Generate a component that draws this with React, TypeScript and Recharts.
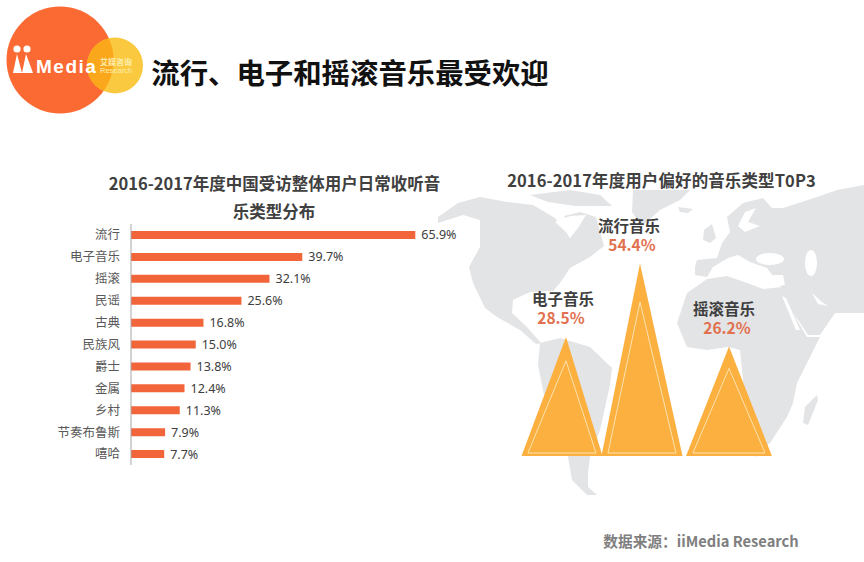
import { Bar, BarChart, LabelList, XAxis, YAxis } from 'recharts';

const genres = ['流行', '电子音乐', '摇滚', '民谣', '古典', '民族风', '爵士', '金属', '乡村', '节奏布鲁斯', '嘻哈'];
const genreShares = [65.9, 39.7, 32.1, 25.6, 16.8, 15.0, 13.8, 12.4, 11.3, 7.9, 7.7];

const topGenres = ['电子音乐', '流行音乐', '摇滚音乐'];
const topShares = [28.5, 54.4, 26.2];

const genreRows = genres.map((name, i) => ({ name, share: genreShares[i] }));
const topRows = topGenres.map((name, i) => ({ name, share: topShares[i] }));

const CJK = '"Noto Sans CJK SC", "Noto Sans", sans-serif';

// the triangles in the picture are not evenly spaced, so each gets a small nudge
const triangleTweaks = [
  { base: -1, peak: 3, grow: 1, name: -3, value: -5 },
  { base: -4, peak: -6, grow: 1, name: -11, value: -8 },
  { base: 0, peak: 0, grow: 1.06, name: -5, value: -2 },
];

function Triangle(props: any) {
  const { x, y, width, height, index } = props;
  const t = triangleTweaks[index];
  const mid = x + width / 2 + t.base;
  const half = (width * t.grow) / 2;
  const bottom = y + height;
  const peak = x + width / 2 + t.peak;
  const innerHalf = half * 0.84;
  const innerBottom = bottom - 3;
  const innerTop = y + height * 0.2;
  return (
    <g>
      <polygon points={`${mid - half},${bottom} ${peak},${y} ${mid + half},${bottom}`} fill="#fbb040" />
      <polygon
        points={`${mid - innerHalf},${innerBottom} ${peak},${innerTop} ${mid + innerHalf},${innerBottom}`}
        fill="none"
        stroke="#fde2ae"
        strokeWidth={1}
      />
      <text x={peak + t.name} y={y - 32} textAnchor="middle" fontSize={15.5} fontWeight={700} fill="#3f3f3f" fontFamily={CJK}>
        {topGenres[index]}
      </text>
      <text x={peak + t.value} y={y - 13} textAnchor="middle" fontSize={15.5} fontWeight={700} fill="#e2714f" fontFamily={CJK}>
        {topShares[index].toFixed(1)}%
      </text>
    </g>
  );
}

function WorldMap() {
  return (
    <svg width={864} height={562} style={{ position: 'absolute', left: 0, top: 0 }}>
      <g fill="#e3e4e6">
        {/* north america */}
        <path d="M438 217 L458 203 L480 197 L507 202 L533 205 L555 218 L566 232 L570 224 L564 216 L580 212 L596 217 L604 246 L590 257 L570 268 L560 283 L553 291 L530 292 L513 300 L512 313 L527 327 L541 343 L536 344 L520 330 L497 317 L485 308 L473 283 L469 267 L480 247 L480 220 L463 215 L438 223 Z" />
        <path d="M530 195 L570 190 L600 195 L612 206 L575 206 L548 202 Z" />
        <path d="M633 190 L690 190 L680 200 L660 210 L642 226 L632 212 Z" />
        <path d="M678 207 L693 209 L688 213 L680 212 Z" />
        {/* south america */}
        <path d="M540 343 L560 338 L590 347 L612 368 L610 385 L600 430 L590 457 L588 473 L588 487 L597 495 L587 495 L572 480 L568 457 L545 400 L538 365 Z" />
        {/* europe and asia */}
        <path d="M695 267 L697 260 L717 258 L722 243 L730 232 L727 217 L743 203 L763 198 L772 208 L783 208 L817 197 L837 190 L864 185 L864 313 L835 313 L820 335 L808 335 L783 297 L781 287 L767 268 L750 262 L738 255 L728 258 L713 267 L707 277 L695 275 Z" />
        <path d="M704 230 L712 224 L716 238 L710 243 L703 240 Z" />
        {/* africa */}
        <path d="M677 323 L687 293 L707 279 L727 276 L750 284 L763 289 L782 287 L797 320 L807 337 L820 337 L797 383 L793 403 L787 417 L770 443 L755 457 L745 440 L745 400 L740 350 L728 347 L707 350 L687 347 Z" />
        <path d="M817 395 L818 400 L808 425 L803 423 L805 407 Z" />
      </g>
      <g fill="#ffffff">
        <ellipse cx="770" cy="259" rx="14" ry="6" />
        <ellipse cx="811" cy="263" rx="6" ry="13" />
        <path d="M745 212 L756 208 L748 222 L760 226 L745 232 L738 226 Z" />
        <path d="M708 278 L720 270 L735 263 L745 270 L753 273 L763 275 L783 275 L785 285 L763 288 L750 283 L730 275 Z" />
        <path d="M782 296 L786 298 L800 330 L796 330 Z" />
        <path d="M812 293 L822 302 L828 306 L818 304 Z" />
        <path d="M555 222 L570 216 L586 215 L578 228 L570 238 L566 232 Z" />
      </g>
    </svg>
  );
}

function Logo() {
  return (
    <svg width={150} height={120} style={{ position: 'absolute', left: 0, top: 0 }}>
      <defs>
        <clipPath id="bigCircle">
          <circle cx={60} cy={60} r={53.5} />
        </clipPath>
      </defs>
      <circle cx={60} cy={60} r={53.5} fill="#fb6a33" />
      <circle cx={115} cy={65.5} r={28} fill="#fbc93f" />
      <circle cx={115} cy={65.5} r={28} fill="#fba71c" clipPath="url(#bigCircle)" />
      <circle cx={17} cy={49} r={3.6} fill="#fff" />
      <circle cx={27} cy={49} r={3.6} fill="#fff" />
      <path d="M13 73 L17 54 L22 73 Z M22 73 L26 54 L33 73 Z" fill="#fff" />
      <text x={36} y={73} fontSize={19} fontWeight={700} letterSpacing={1.5} fill="#fff" fontFamily="Liberation Sans, sans-serif">
        Media
      </text>
      <text x={100} y={65} fontSize={8} fontWeight={700} fill="#fdeeb0" fontFamily={CJK}>
        艾媒咨询
      </text>
      <text x={100} y={73} fontSize={7.5} fill="#fdeeb0" fontFamily="Liberation Sans, sans-serif">
        Research
      </text>
    </svg>
  );
}

function Heading(props: { cx: number; cy: number; size: number; color: string; spacing?: number; children: string }) {
  return (
    <div
      style={{
        position: 'absolute',
        left: props.cx - 300,
        top: props.cy - 20,
        width: 600,
        height: 40,
        lineHeight: '40px',
        textAlign: 'center',
        fontFamily: CJK,
        fontWeight: 700,
        fontSize: props.size,
        color: props.color,
        letterSpacing: props.spacing ?? 0,
        whiteSpace: 'nowrap',
      }}
    >
      {props.children}
    </div>
  );
}

export default function App() {
  return (
    <div style={{ position: 'absolute', left: 0, top: 0, width: 864, height: 562, background: '#fff', overflow: 'hidden' }}>
      <WorldMap />
      <Logo />
      <Heading cx={350} cy={72} size={28.4} color="#111">流行、电子和摇滚音乐最受欢迎</Heading>
      <Heading cx={274.5} cy={183} size={16.5} color="#404040">2016-2017年度中国受访整体用户日常收听音</Heading>
      <Heading cx={274} cy={211} size={16.5} color="#404040">乐类型分布</Heading>
      <Heading cx={661.5} cy={180} size={16.5} color="#404040" spacing={0.1}>2016-2017年度用户偏好的音乐类型T0P3</Heading>
      <Heading cx={701} cy={541} size={14.7} color="#7f7f7f">数据来源：iiMedia Research</Heading>

      <div style={{ position: 'absolute', left: 0, top: 0 }}>
        <BarChart
          width={470}
          height={562}
          data={genreRows}
          layout="vertical"
          margin={{ top: 224, right: 37, bottom: 97, left: 0 }}
        >
          <XAxis type="number" hide domain={[0, 70]} />
          <YAxis
            type="category"
            dataKey="name"
            width={131}
            interval={0}
            tickLine={false}
            tickSize={0}
            tickMargin={11}
            axisLine={{ stroke: '#a6a6a6' }}
            tick={{ fontSize: 12.5, fill: '#595959', fontFamily: CJK }}
          />
          <Bar dataKey="share" fill="#f2653a" barSize={8} isAnimationActive={false}>
            <LabelList
              dataKey="share"
              position="right"
              offset={6}
              formatter={(v: number) => `${v.toFixed(1)}%`}
              style={{ fontSize: 12.5, fill: '#404040', fontFamily: '"Noto Sans", sans-serif' }}
            />
          </Bar>
        </BarChart>
      </div>

      <div style={{ position: 'absolute', left: 500, top: 0 }}>
        <BarChart
          width={364}
          height={562}
          data={topRows}
          barCategoryGap={1}
          margin={{ top: 194.4, right: 93.5, bottom: 106, left: 21.5 }}
        >
          <XAxis type="category" dataKey="name" hide />
          <YAxis type="number" hide scale="log" domain={[10, 100]} allowDataOverflow />
          <Bar dataKey="share" shape={Triangle} isAnimationActive={false} />
        </BarChart>
      </div>
    </div>
  );
}
